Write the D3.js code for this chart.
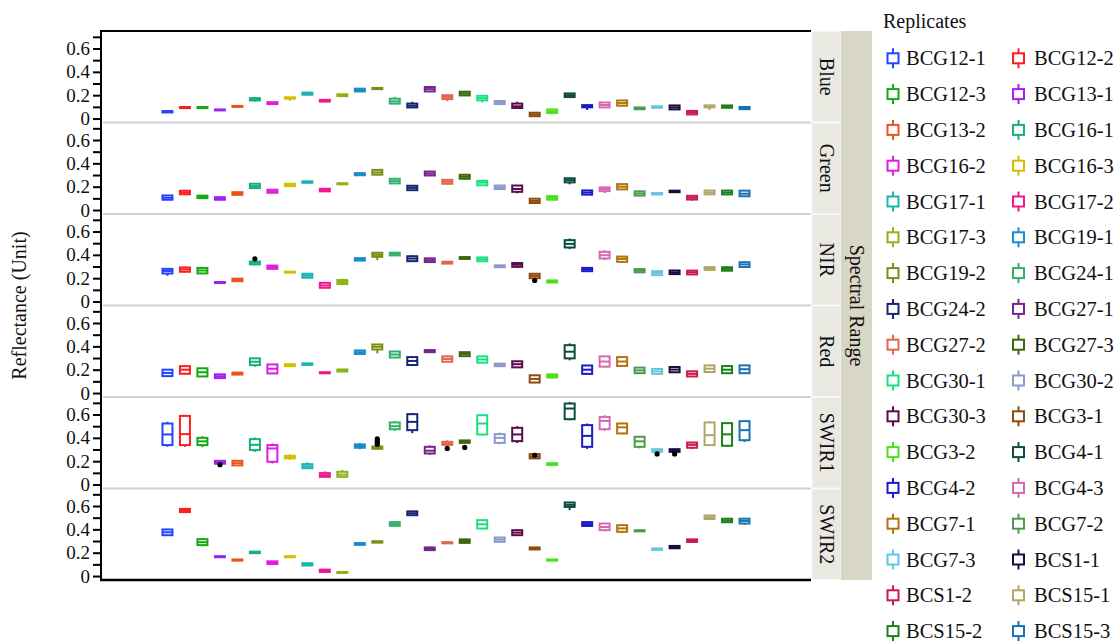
<!DOCTYPE html>
<html>
<head>
<meta charset="utf-8">
<script src="https://cdn.jsdelivr.net/npm/d3@7"></script>
<style>
  body { margin: 0; background: #fff; }
  svg { display: block; }
  text { font-family: "Liberation Serif", "Times New Roman", serif; fill: #111; }
</style>
</head>
<body>
<svg id="chart" width="1120" height="641"></svg>
<script>
// Replicates, in legend order
const replicates = [
  "BCG12-1","BCG12-2","BCG12-3","BCG13-1","BCG13-2","BCG16-1","BCG16-2","BCG16-3",
  "BCG17-1","BCG17-2","BCG17-3","BCG19-1","BCG19-2","BCG24-1","BCG24-2","BCG27-1",
  "BCG27-2","BCG27-3","BCG30-1","BCG30-2","BCG30-3","BCG3-1","BCG3-2","BCG4-1",
  "BCG4-2","BCG4-3","BCG7-1","BCG7-2","BCG7-3","BCS1-1","BCS1-2","BCS15-1",
  "BCS15-2","BCS15-3"
];
const replicateColors = [
  "#2443ff","#ff1c1c","#14a914","#a020f0","#e8541a","#14b07d","#e01ce0","#d2c000",
  "#18b4b4","#f0168c","#8cb414","#1a8ccc","#7f8c14","#34b06a","#162673","#74268c",
  "#e0664c","#3e660c","#1ae082","#8c99cc","#5a0c4c","#8c4c0c","#4ce01a","#0c4c40",
  "#1a1acc","#d866b2","#b2720c","#4c9a4c","#66c6e0","#1a0c40","#cc1a4c","#b2a666",
  "#1a801a","#1a72b2"
];
const bands = ["Blue","Green","NIR","Red","SWIR1","SWIR2"];
const yTickLabels = [0, 0.2, 0.4, 0.6];
const yMinorTicks = [0.1, 0.3, 0.5, 0.7];

// Box statistics per replicate: [min, q1, median, q3, max]
const blue = [
  [0.048,0.052,0.058,0.064,0.068],[0.092,0.094,0.096,0.098,0.100],[0.092,0.094,0.096,0.098,0.100],
  [0.068,0.070,0.073,0.078,0.080],[0.100,0.101,0.104,0.108,0.110],[0.145,0.155,0.165,0.175,0.185],
  [0.120,0.124,0.130,0.140,0.142],[0.152,0.170,0.176,0.182,0.184],[0.200,0.204,0.212,0.222,0.226],
  [0.140,0.145,0.152,0.160,0.164],[0.190,0.192,0.200,0.208,0.210],[0.230,0.232,0.244,0.256,0.258],
  [0.250,0.252,0.258,0.262,0.270],[0.121,0.128,0.147,0.170,0.186],[0.092,0.095,0.110,0.128,0.144],
  [0.229,0.232,0.252,0.270,0.272],[0.150,0.167,0.185,0.200,0.201],[0.195,0.198,0.214,0.230,0.232],
  [0.138,0.155,0.175,0.195,0.196],[0.121,0.124,0.135,0.150,0.158],[0.087,0.090,0.105,0.128,0.144],
  [0.016,0.020,0.035,0.050,0.053],[0.044,0.048,0.062,0.078,0.081],[0.181,0.184,0.200,0.215,0.218],
  [0.073,0.096,0.105,0.115,0.116],[0.092,0.095,0.116,0.138,0.141],[0.107,0.110,0.132,0.155,0.158],
  [0.078,0.080,0.086,0.095,0.098],[0.090,0.092,0.098,0.105,0.107],[0.075,0.078,0.095,0.112,0.115],
  [0.030,0.035,0.050,0.065,0.070],[0.073,0.096,0.105,0.113,0.115],[0.090,0.092,0.102,0.112,0.115],
  [0.078,0.080,0.090,0.099,0.101]
];
const green = [
  [0.085,0.088,0.105,0.125,0.128],[0.128,0.135,0.150,0.165,0.171],[0.100,0.102,0.112,0.123,0.125],
  [0.085,0.088,0.098,0.110,0.114],[0.128,0.130,0.142,0.153,0.156],[0.185,0.188,0.205,0.225,0.228],
  [0.145,0.148,0.160,0.174,0.177],[0.203,0.205,0.215,0.225,0.228],[0.231,0.233,0.240,0.246,0.248],
  [0.156,0.160,0.170,0.182,0.188],[0.220,0.222,0.226,0.229,0.231],[0.296,0.298,0.308,0.316,0.319],
  [0.299,0.303,0.322,0.344,0.348],[0.225,0.228,0.248,0.268,0.271],[0.165,0.170,0.190,0.208,0.214],
  [0.293,0.296,0.313,0.330,0.333],[0.222,0.225,0.242,0.259,0.262],[0.265,0.268,0.285,0.302,0.305],
  [0.208,0.212,0.235,0.250,0.259],[0.177,0.180,0.195,0.210,0.214],[0.143,0.156,0.180,0.210,0.214],
  [0.057,0.060,0.078,0.097,0.100],[0.085,0.088,0.104,0.119,0.122],[0.220,0.237,0.256,0.272,0.276],
  [0.128,0.132,0.150,0.168,0.171],[0.145,0.162,0.180,0.194,0.197],[0.174,0.177,0.200,0.222,0.225],
  [0.120,0.124,0.142,0.160,0.165],[0.131,0.133,0.140,0.146,0.148],[0.151,0.153,0.160,0.166,0.168],
  [0.080,0.090,0.105,0.122,0.128],[0.131,0.134,0.150,0.167,0.171],[0.131,0.134,0.150,0.167,0.171],
  [0.114,0.118,0.140,0.166,0.171]
];
const nir = [
  [0.220,0.240,0.262,0.280,0.284],[0.250,0.255,0.275,0.292,0.297],[0.236,0.241,0.266,0.288,0.292],
  [0.158,0.160,0.163,0.167,0.169],[0.172,0.174,0.185,0.196,0.198],[0.310,0.318,0.332,0.342,0.346],
  [0.275,0.280,0.296,0.308,0.312],[0.246,0.248,0.252,0.256,0.258],[0.201,0.204,0.221,0.238,0.241],
  [0.113,0.118,0.138,0.160,0.164],[0.140,0.150,0.167,0.184,0.195],[0.349,0.351,0.362,0.372,0.374],
  [0.355,0.383,0.400,0.418,0.420],[0.390,0.395,0.408,0.418,0.422],[0.340,0.346,0.368,0.388,0.395],
  [0.335,0.338,0.354,0.370,0.374],[0.323,0.325,0.333,0.341,0.343],[0.363,0.365,0.373,0.381,0.383],
  [0.340,0.345,0.362,0.378,0.383],[0.292,0.294,0.302,0.310,0.312],[0.290,0.297,0.315,0.330,0.332],
  [0.192,0.200,0.220,0.238,0.241],[0.161,0.163,0.172,0.181,0.184],[0.449,0.463,0.494,0.526,0.540],
  [0.255,0.260,0.274,0.288,0.292],[0.355,0.369,0.397,0.426,0.440],[0.330,0.340,0.365,0.385,0.392],
  [0.246,0.250,0.264,0.278,0.280],[0.220,0.226,0.245,0.260,0.263],[0.232,0.235,0.250,0.266,0.269],
  [0.228,0.232,0.250,0.265,0.269],[0.269,0.271,0.283,0.295,0.297],[0.261,0.264,0.280,0.294,0.297],
  [0.292,0.296,0.318,0.337,0.345]
];
const red = [
  [0.140,0.145,0.172,0.200,0.205],[0.160,0.165,0.200,0.230,0.235],[0.138,0.142,0.178,0.212,0.218],
  [0.126,0.128,0.144,0.160,0.162],[0.156,0.158,0.166,0.175,0.177],[0.225,0.239,0.268,0.297,0.300],
  [0.165,0.168,0.208,0.245,0.250],[0.228,0.230,0.239,0.248,0.250],[0.239,0.241,0.248,0.254,0.256],
  [0.168,0.170,0.174,0.178,0.180],[0.182,0.184,0.193,0.202,0.205],[0.331,0.334,0.350,0.365,0.368],
  [0.340,0.373,0.396,0.416,0.420],[0.300,0.304,0.330,0.356,0.360],[0.236,0.240,0.275,0.308,0.312],
  [0.348,0.350,0.359,0.368,0.370],[0.265,0.268,0.292,0.314,0.318],[0.314,0.316,0.335,0.350,0.353],
  [0.255,0.260,0.288,0.314,0.318],[0.228,0.230,0.241,0.252,0.254],[0.218,0.220,0.247,0.272,0.276],
  [0.085,0.090,0.121,0.152,0.156],[0.131,0.133,0.146,0.160,0.162],[0.280,0.297,0.354,0.410,0.425],
  [0.160,0.164,0.200,0.236,0.240],[0.222,0.226,0.270,0.314,0.318],[0.228,0.232,0.270,0.308,0.312],
  [0.166,0.170,0.194,0.218,0.222],[0.160,0.164,0.185,0.206,0.210],[0.175,0.178,0.201,0.223,0.226],
  [0.138,0.142,0.164,0.186,0.190],[0.177,0.180,0.209,0.237,0.240],[0.166,0.170,0.200,0.231,0.235],
  [0.166,0.170,0.204,0.237,0.240]
];
const swir1 = [
  [0.323,0.338,0.429,0.523,0.537],[0.323,0.338,0.432,0.588,0.590],[0.320,0.338,0.370,0.400,0.414],
  [0.176,0.178,0.190,0.203,0.205],[0.160,0.164,0.183,0.203,0.205],[0.280,0.295,0.340,0.389,0.403],
  [0.180,0.195,0.309,0.338,0.352],[0.210,0.224,0.235,0.246,0.260],[0.138,0.140,0.156,0.175,0.190],
  [0.064,0.066,0.080,0.098,0.112],[0.064,0.066,0.085,0.109,0.125],[0.302,0.315,0.330,0.344,0.356],
  [0.304,0.306,0.316,0.326,0.328],[0.460,0.474,0.500,0.532,0.545],[0.440,0.466,0.537,0.603,0.610],
  [0.255,0.266,0.290,0.323,0.335],[0.338,0.340,0.352,0.366,0.378],[0.355,0.357,0.368,0.378,0.380],
  [0.420,0.429,0.523,0.594,0.600],[0.345,0.357,0.400,0.432,0.445],[0.355,0.372,0.429,0.486,0.500],
  [0.222,0.224,0.240,0.261,0.263],[0.167,0.168,0.175,0.183,0.184],[0.550,0.560,0.651,0.694,0.708],
  [0.305,0.323,0.417,0.509,0.523],[0.460,0.474,0.545,0.579,0.593],[0.430,0.438,0.490,0.523,0.530],
  [0.310,0.323,0.370,0.409,0.415],[0.278,0.280,0.292,0.303,0.305],[0.278,0.280,0.292,0.303,0.305],
  [0.305,0.315,0.340,0.360,0.362],[0.330,0.338,0.423,0.532,0.540],[0.325,0.332,0.430,0.526,0.530],
  [0.365,0.380,0.466,0.543,0.550]
];
const swir2 = [
  [0.345,0.350,0.375,0.399,0.404],[0.544,0.548,0.560,0.575,0.579],[0.255,0.265,0.290,0.316,0.318],
  [0.160,0.161,0.165,0.170,0.171],[0.131,0.132,0.137,0.142,0.143],[0.194,0.196,0.202,0.209,0.211],
  [0.100,0.103,0.115,0.126,0.128],[0.160,0.161,0.165,0.170,0.171],[0.088,0.090,0.100,0.110,0.111],
  [0.031,0.035,0.045,0.055,0.057],[0.026,0.027,0.031,0.035,0.037],[0.265,0.267,0.275,0.283,0.285],
  [0.285,0.286,0.292,0.298,0.299],[0.427,0.430,0.445,0.462,0.464],[0.515,0.521,0.538,0.554,0.556],
  [0.218,0.222,0.235,0.245,0.252],[0.279,0.280,0.285,0.290,0.291],[0.282,0.284,0.300,0.314,0.316],
  [0.400,0.407,0.443,0.479,0.486],[0.290,0.293,0.312,0.330,0.333],[0.345,0.350,0.372,0.393,0.398],
  [0.222,0.228,0.236,0.245,0.246],[0.131,0.132,0.137,0.142,0.143],[0.565,0.592,0.610,0.630,0.632],
  [0.427,0.429,0.445,0.462,0.464],[0.385,0.393,0.420,0.450,0.452],[0.370,0.379,0.408,0.436,0.438],
  [0.382,0.383,0.388,0.392,0.393],[0.222,0.224,0.230,0.237,0.239],[0.237,0.238,0.248,0.258,0.259],
  [0.291,0.292,0.304,0.314,0.316],[0.487,0.489,0.504,0.519,0.521],[0.459,0.461,0.476,0.491,0.493],
  [0.440,0.450,0.472,0.491,0.493]
];
const bandStats = { Blue: blue, Green: green, NIR: nir, Red: red, SWIR1: swir1, SWIR2: swir2 };

// Points lying beyond the whiskers
const outlierBand = ["NIR","NIR","SWIR1","SWIR1","SWIR1","SWIR1","SWIR1","SWIR1","SWIR1","SWIR1","SWIR1","SWIR1"];
const outlierRep  = ["BCG16-1","BCG3-1","BCG13-1","BCG19-2","BCG19-2","BCG19-2","BCG19-2","BCG27-2","BCG27-3","BCG7-3","BCS1-1","BCG3-1"];
const outlierVal  = [0.366,0.180,0.170,0.345,0.360,0.375,0.392,0.309,0.318,0.262,0.262,0.250];

// ---------------------------------------------------------------------------
const svg = d3.select("#chart");
const plotLeft = 101, plotRight = 811, plotTop = 31, plotBottom = 580;
const panelH = (plotBottom - plotTop) / bands.length;
const boxW = 10;

const x = d3.scalePoint().domain(replicates).range([plotLeft, plotRight]).padding(3.8);
const color = d3.scaleOrdinal().domain(replicates).range(replicateColors);
const yDomain = [-0.034, 0.75];

const panelTop = b => plotTop + bands.indexOf(b) * panelH;
const yFor = b => d3.scaleLinear().domain(yDomain).range([panelTop(b) + panelH, panelTop(b)]);

// panel separators
svg.append("g").selectAll("line")
  .data(bands.slice(1))
  .join("line")
  .attr("x1", plotLeft + 2).attr("x2", plotRight)
  .attr("y1", b => panelTop(b)).attr("y2", b => panelTop(b))
  .attr("stroke", "#cfcfcf").attr("stroke-width", 2);

// boxes
bands.forEach(band => {
  const y = yFor(band);
  const stats = bandStats[band];
  const g = svg.append("g").attr("class", "panel");
  const items = replicates.map((r, i) => ({ rep: r, s: stats[i] }));
  const grp = g.selectAll("g.box").data(items).join("g").attr("class", "box")
    .attr("stroke", d => color(d.rep)).attr("stroke-width", 2).attr("fill", "none");
  grp.append("line")
    .attr("x1", d => x(d.rep)).attr("x2", d => x(d.rep))
    .attr("y1", d => y(d.s[0])).attr("y2", d => y(d.s[4]));
  grp.append("rect")
    .attr("x", d => x(d.rep) - boxW / 2).attr("width", boxW)
    .attr("y", d => y(d.s[3])).attr("height", d => Math.max(1, y(d.s[1]) - y(d.s[3])))
    .attr("fill", "#fff");
  grp.append("line")
    .attr("x1", d => x(d.rep) - boxW / 2).attr("x2", d => x(d.rep) + boxW / 2)
    .attr("y1", d => y(d.s[2])).attr("y2", d => y(d.s[2]));

  // y axis for this panel
  const axis = d3.axisLeft(y).tickValues(yTickLabels).tickSize(8).tickPadding(3)
    .tickFormat(d3.format("~g"));
  const ag = svg.append("g").attr("transform", `translate(${plotLeft},0)`).call(axis);
  ag.select(".domain").remove();
  ag.selectAll(".tick line").attr("stroke", "#000").attr("stroke-width", 2);
  ag.selectAll(".tick text").attr("font-size", 19).attr("fill", "#111")
    .style("font-family", '"Liberation Serif", serif');
  const minor = d3.axisLeft(y).tickValues(yMinorTicks).tickSize(8).tickFormat("");
  const mg = svg.append("g").attr("transform", `translate(${plotLeft},0)`).call(minor);
  mg.select(".domain").remove();
  mg.selectAll(".tick line").attr("stroke", "#000").attr("stroke-width", 2);
});

// outliers
svg.append("g").selectAll("circle")
  .data(outlierVal.map((v, i) => ({ band: outlierBand[i], rep: outlierRep[i], v })))
  .join("circle")
  .attr("cx", d => x(d.rep)).attr("cy", d => yFor(d.band)(d.v))
  .attr("r", 2.6).attr("fill", "#000");

// frame
svg.append("line").attr("x1", plotLeft).attr("x2", plotLeft).attr("y1", plotTop - 1).attr("y2", plotBottom + 1)
  .attr("stroke", "#000").attr("stroke-width", 2);
svg.append("line").attr("x1", plotLeft - 1).attr("x2", plotRight).attr("y1", plotTop).attr("y2", plotTop)
  .attr("stroke", "#000").attr("stroke-width", 2);
svg.append("line").attr("x1", plotLeft - 1).attr("x2", plotRight).attr("y1", plotBottom).attr("y2", plotBottom)
  .attr("stroke", "#000").attr("stroke-width", 2.5);

// strips
const stripX = plotRight + 1, stripW = 29, outerW = 31;
const strips = svg.append("g");
strips.selectAll("rect").data(bands).join("rect")
  .attr("x", stripX).attr("width", stripW)
  .attr("y", b => panelTop(b) + 0.5).attr("height", panelH - 1)
  .attr("fill", "#e9e9e1").attr("stroke", "#f7f7f3").attr("stroke-width", 1);
strips.selectAll("text").data(bands).join("text")
  .attr("transform", b => `translate(${stripX + stripW / 2},${panelTop(b) + panelH / 2}) rotate(90)`)
  .attr("text-anchor", "middle").attr("dy", "0.35em")
  .attr("font-size", 20).text(b => b);

svg.append("rect").attr("x", stripX + stripW).attr("y", plotTop).attr("width", outerW)
  .attr("height", plotBottom - plotTop).attr("fill", "#d8d6c5");
svg.append("text")
  .attr("transform", `translate(${stripX + stripW + outerW / 2},${(plotTop + plotBottom) / 2}) rotate(90)`)
  .attr("text-anchor", "middle").attr("dy", "0.35em").attr("font-size", 20).text("Spectral Range");

// y title
svg.append("text")
  .attr("transform", `translate(19,${(plotTop + plotBottom) / 2}) rotate(-90)`)
  .attr("text-anchor", "middle").attr("dy", "0.35em").attr("font-size", 20).text("Reflectance (Unit)");

// legend
const legend = svg.append("g");
legend.append("text").attr("x", 883).attr("y", 28).attr("font-size", 20).text("Replicates");
const rowY = i => 58.3 + Math.floor(i / 2) * 35.8;
const iconX = i => (i % 2 === 0 ? 893 : 1018.5);
const textX = i => (i % 2 === 0 ? 906 : 1034);
const li = legend.selectAll("g.item").data(replicates).join("g").attr("class", "item");
li.append("line")
  .attr("x1", (d, i) => iconX(i)).attr("x2", (d, i) => iconX(i))
  .attr("y1", (d, i) => rowY(i) - 10).attr("y2", (d, i) => rowY(i) + 10)
  .attr("stroke", d => color(d)).attr("stroke-width", 2);
li.append("rect")
  .attr("x", (d, i) => iconX(i) - 5.5).attr("y", (d, i) => rowY(i) - 5)
  .attr("width", 11).attr("height", 10)
  .attr("fill", "#fff").attr("stroke", d => color(d)).attr("stroke-width", 2);
li.append("text")
  .attr("x", (d, i) => textX(i)).attr("y", (d, i) => rowY(i)).attr("dy", "0.35em")
  .attr("font-size", 20.5).text(d => d);
</script>
</body>
</html>
